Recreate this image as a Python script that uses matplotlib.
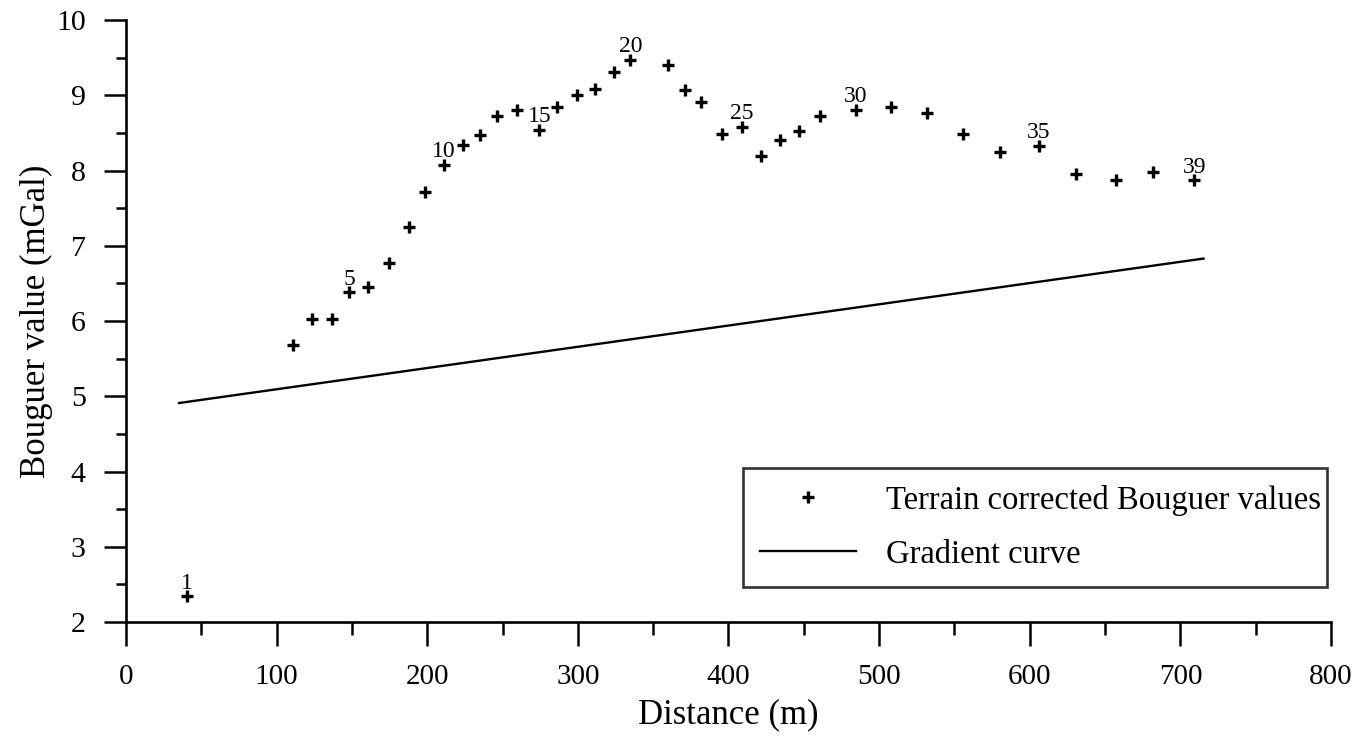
import numpy as np
import matplotlib
matplotlib.use('Agg')
import matplotlib.pyplot as plt
from matplotlib.ticker import MultipleLocator

plt.rcParams['font.family'] = ['Liberation Serif', 'DejaVu Serif']

# station distance (m) and terrain corrected Bouguer value (mGal)
distance = [40.3, 111.1, 123.3, 136.6, 148.3, 160.5, 174.4, 187.7, 198.3, 211.0,
            224.0, 235.3, 246.1, 259.4, 274.5, 286.0, 299.1, 311.4, 323.8, 334.9,
            360.1, 371.0, 381.6, 395.8, 408.8, 421.8, 434.0, 447.0, 461.0, 484.4,
            507.7, 531.9, 555.8, 580.3, 606.2, 630.6, 657.1, 682.0, 709.2]
bouguer = [2.34, 5.68, 6.03, 6.03, 6.38, 6.45, 6.77, 7.25, 7.72, 8.07,
           8.34, 8.47, 8.73, 8.80, 8.54, 8.84, 9.01, 9.08, 9.31, 9.47,
           9.40, 9.07, 8.91, 8.49, 8.58, 8.19, 8.41, 8.53, 8.72, 8.81,
           8.85, 8.77, 8.48, 8.25, 8.33, 7.96, 7.88, 7.98, 7.87]
labelled = [1, 5, 10, 15, 20, 25, 30, 35, 39]

# gradient curve
grad_x = [35.2, 715.4]
grad_y = [4.91, 6.83]

fig = plt.figure(figsize=(13.59, 7.36), dpi=100)
ax = fig.add_axes([0.0927, 0.1549, 0.8867, 0.8179])

ax.plot(distance, bouguer, linestyle='none', marker='+', color='black',
        markersize=9, markeredgewidth=2.4, label='Terrain corrected Bouguer values')
ax.plot(grad_x, grad_y, color='black', linewidth=1.7, label='Gradient curve')

# station numbers
for n in labelled:
    ax.annotate(str(n), (distance[n-1], bouguer[n-1]), xytext=(0, 2),
                textcoords='offset points', ha='center', va='bottom', fontsize=17)

ax.set_xlim(0, 800)
ax.set_ylim(2, 10)
ax.xaxis.set_major_locator(MultipleLocator(100))
ax.xaxis.set_minor_locator(MultipleLocator(50))
ax.yaxis.set_major_locator(MultipleLocator(1))
ax.yaxis.set_minor_locator(MultipleLocator(0.5))

for side in ['top', 'right']:
    ax.spines[side].set_visible(False)
for side in ['left', 'bottom']:
    ax.spines[side].set_linewidth(1.9)

ax.tick_params(axis='x', which='major', direction='out', length=17, width=1.8, pad=13, labelsize=21)
ax.tick_params(axis='x', which='minor', direction='out', length=9, width=1.8)
ax.tick_params(axis='y', which='major', direction='out', length=16, width=1.8, pad=13, labelsize=21.5)
ax.tick_params(axis='y', which='minor', direction='out', length=7, width=1.8)

ax.set_xlabel('Distance (m)', fontsize=25, labelpad=6)
ax.set_ylabel('Bouguer value (mGal)', fontsize=25, labelpad=2)

leg = ax.legend(loc='upper left', bbox_to_anchor=(0.512, 0.058, 0.485, 0.198), mode='expand',
                fontsize=23.5, frameon=True, fancybox=False, borderpad=0.52,
                labelspacing=0.71, handlelength=2.95, handletextpad=0.9, borderaxespad=0)
leg.get_frame().set_edgecolor('black')
leg.get_frame().set_linewidth(1.9)

fig.savefig('out.png', dpi=100)
